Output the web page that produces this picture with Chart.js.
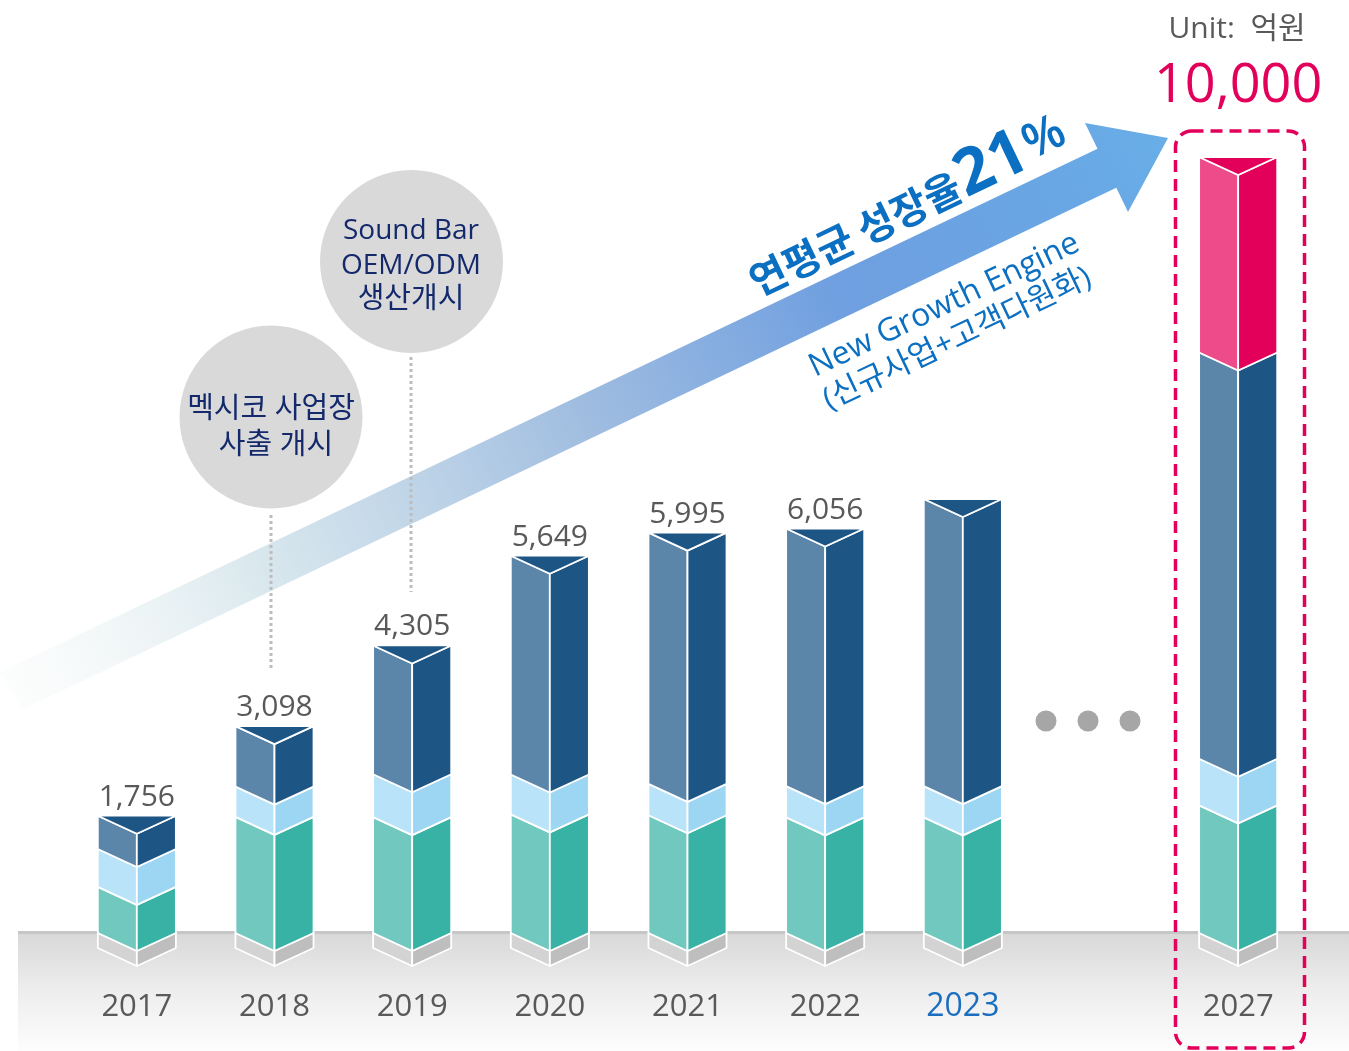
<!DOCTYPE html>
<html><head><meta charset="utf-8">
<script src="https://cdn.jsdelivr.net/npm/chart.js@4.4.1/dist/chart.umd.min.js"></script>
<style>html,body{margin:0;padding:0;background:#fff;overflow:hidden}canvas{display:block}</style>
</head><body>
<canvas id="c" width="1349" height="1051"></canvas>
<script>
// ---- data (unit: 억원) ----
const years = ['2017', '2018', '2019', '2020', '2021', '2022', '2023', '', '2027'];
const totalLabels = [1756, 3098, 4305, 5649, 5995, 6056, null, null, 10000];
const seriesTeal = [691, 1738, 1734, 1776, 1763, 1732, 1732, null, 1645];
const seriesLightBlue = [567, 453, 643, 597, 470, 466, 466, null, 601];
const seriesDarkBlue = [498, 907, 1928, 3276, 3762, 3858, 4300, null, 5235];
const seriesNewGrowth = [null, null, null, null, null, null, null, null, 2519];
const highlightYear = '2023';
const targetYear = '2027';
const unitText = 'Unit:  억원';

// ---- styles ----
const seriesList = [seriesTeal, seriesLightBlue, seriesDarkBlue, seriesNewGrowth];
const faceStyles = [
  {left: '#70c8bf', right: '#37b2a5'},
  {left: '#b9e3f8', right: '#9dd6f3'},
  {left: '#5b86aa', right: '#1d5585'},
  {left: '#ee4b8a', right: '#e3005a'}
];
const pedestalStyle = {left: '#d3d3d3', right: '#bebebe'};
const FONT_LATIN = '"Open Sans", "Noto Sans CJK KR", sans-serif';
const FONT_KR = '"Noto Sans CJK KR", "Open Sans", sans-serif';

const datasets = [];
seriesList.forEach((arr, si) => {
  datasets.push({
    data: arr.map((v, i) => years[i] === targetYear ? null : v),
    yAxisID: 'y', stack: 'near', seriesIndex: si, grouped: false,
    backgroundColor: 'rgba(0,0,0,0)', borderWidth: 0,
    categoryPercentage: 1, barPercentage: 0.567
  });
  datasets.push({
    data: arr.map((v, i) => years[i] === targetYear ? v : null),
    yAxisID: 'y2', stack: 'far', seriesIndex: si, grouped: false,
    backgroundColor: 'rgba(0,0,0,0)', borderWidth: 0,
    categoryPercentage: 1, barPercentage: 0.567
  });
});

function drawFaces(ctx, x, hw, top, bot, d, st) {
  ctx.lineJoin = 'round';
  ctx.strokeStyle = '#ffffff';
  ctx.lineWidth = 1.8;
  ctx.beginPath();
  ctx.moveTo(x - hw, top); ctx.lineTo(x, top + d); ctx.lineTo(x, bot + d); ctx.lineTo(x - hw, bot); ctx.closePath();
  ctx.fillStyle = st.left; ctx.fill(); ctx.stroke();
  ctx.beginPath();
  ctx.moveTo(x, top + d); ctx.lineTo(x + hw, top); ctx.lineTo(x + hw, bot); ctx.lineTo(x, bot + d); ctx.closePath();
  ctx.fillStyle = st.right; ctx.fill(); ctx.stroke();
}

const decorPlugin = {
  id: 'decor',
  beforeDraw(chart) {
    const ctx = chart.ctx;
    ctx.save();
    // ground
    const g = ctx.createLinearGradient(0, 933, 0, 1051);
    g.addColorStop(0, '#d8d8d8');
    g.addColorStop(0.45, '#ececec');
    g.addColorStop(1, '#fdfdfd');
    ctx.fillStyle = g;
    ctx.fillRect(18, 933, 1331, 118);
    ctx.fillStyle = '#c6c6c6';
    ctx.fillRect(18, 931, 1331, 3);

    // arrow
    const k = 0.477;
    const up = x => 149 + (1097 - x) * k;
    const lo = x => 197 + (1097 - x) * k;
    const ag = ctx.createLinearGradient(0, 700, 1168, 138);
    ag.addColorStop(0, 'rgba(240,245,245,0.15)');
    ag.addColorStop(0.22, 'rgba(214,230,236,0.9)');
    ag.addColorStop(0.5, '#a0bde0');
    ag.addColorStop(0.72, '#6f9fe0');
    ag.addColorStop(0.9, '#69a6e4');
    ag.addColorStop(1, '#68aee7');
    ctx.fillStyle = ag;
    ctx.beginPath();
    ctx.moveTo(0, up(0));
    ctx.lineTo(1097.5, 148.8);
    ctx.lineTo(1085, 123);
    ctx.lineTo(1168, 138);
    ctx.lineTo(1128, 212);
    ctx.lineTo(1116.3, 187.8);
    ctx.lineTo(22, lo(22));
    ctx.closePath();
    ctx.fill();

    // arrow texts
    const ang = -Math.atan(k);
    ctx.fillStyle = '#0b6fc2';
    ctx.textBaseline = 'alphabetic';
    ctx.textAlign = 'left';
    ctx.save();
    ctx.translate(758, 297); ctx.rotate(ang);
    ctx.font = 'bold 40px ' + FONT_KR;
    ctx.fillText('연평균 성장율', 0, 0);
    let w = ctx.measureText('연평균 성장율').width;
    ctx.font = 'bold 64px ' + FONT_LATIN;
    ctx.fillText('21', w + 1, 0);
    const w2 = ctx.measureText('21').width;
    ctx.font = '600 48px ' + FONT_LATIN;
    ctx.fillText('%', w + 3 + w2, -6);
    ctx.restore();

    ctx.save();
    ctx.translate(815, 377); ctx.rotate(ang);
    ctx.font = '32px ' + FONT_LATIN;
    ctx.fillText('New Growth Engine', 0, 0);
    ctx.restore();
    ctx.save();
    ctx.translate(829, 410); ctx.rotate(ang);
    ctx.font = '31px ' + FONT_LATIN;
    ctx.fillText('(신규사업+고객다원화)', 0, 0);
    ctx.restore();

    // dotted leader lines
    ctx.strokeStyle = '#bdbdbd';
    ctx.lineWidth = 3;
    ctx.setLineDash([3, 3]);
    ctx.beginPath(); ctx.moveTo(271, 515); ctx.lineTo(271, 670); ctx.stroke();
    ctx.beginPath(); ctx.moveTo(411, 357); ctx.lineTo(411, 592); ctx.stroke();
    ctx.setLineDash([]);

    // circles
    ctx.fillStyle = '#d9d9d9';
    ctx.beginPath(); ctx.arc(271, 417, 91.5, 0, Math.PI * 2); ctx.fill();
    ctx.beginPath(); ctx.arc(411.5, 261.5, 91.5, 0, Math.PI * 2); ctx.fill();
    ctx.fillStyle = '#13296b';
    ctx.textAlign = 'center';
    ctx.textBaseline = 'middle';
    ctx.font = '29px ' + FONT_LATIN;
    ctx.fillText('멕시코 사업장', 271, 410);
    ctx.fillText('사출 개시', 276, 446);
    ctx.font = '28px ' + FONT_LATIN;
    ctx.fillText('Sound Bar', 411, 231);
    ctx.fillText('OEM/ODM', 411, 266);
    ctx.font = '29px ' + FONT_LATIN;
    ctx.fillText('생산개시', 411, 300);

    // ellipsis dots
    ctx.fillStyle = '#a6a6a6';
    [1046, 1088, 1130].forEach(cx => { ctx.beginPath(); ctx.arc(cx, 721, 10.5, 0, Math.PI * 2); ctx.fill(); });

    // dashed highlight box
    ctx.strokeStyle = '#e3005a';
    ctx.lineWidth = 3.5;
    ctx.setLineDash([12, 7]);
    ctx.beginPath();
    ctx.roundRect(1175.5, 131, 129, 917, 16);
    ctx.stroke();
    ctx.setLineDash([]);

    // unit
    ctx.fillStyle = '#595959';
    ctx.textBaseline = 'alphabetic';
    ctx.font = '30px ' + FONT_LATIN;
    ctx.fillText(unitText, 1237, 38);
    ctx.restore();
  },
  afterDatasetsDraw(chart) {
    const ctx = chart.ctx;
    const d = 18;
    ctx.save();
    for (let i = 0; i < years.length; i++) {
      const segs = [];
      chart.data.datasets.forEach((ds, di) => {
        if (ds.data[i] == null) return;
        const el = chart.getDatasetMeta(di).data[i];
        const p = el.getProps(['x', 'y', 'base', 'width'], true);
        segs.push({x: p.x, hw: p.width / 2, top: p.y, bot: p.base, st: faceStyles[ds.seriesIndex]});
      });
      if (!segs.length) continue;
      segs.sort((a, b) => b.bot - a.bot);
      const x = segs[0].x, hw = segs[0].hw;
      drawFaces(ctx, x, hw, segs[0].bot, segs[0].bot + 15, d, pedestalStyle);
      segs.forEach(s => drawFaces(ctx, x, hw, s.top, s.bot, d, s.st));
      const t = segs[segs.length - 1];
      ctx.beginPath();
      ctx.moveTo(x - hw, t.top); ctx.lineTo(x + hw, t.top); ctx.lineTo(x, t.top + d); ctx.closePath();
      ctx.fillStyle = t.st.right; ctx.fill();
      ctx.strokeStyle = '#fff'; ctx.lineWidth = 1.8; ctx.stroke();

      // value label
      const v = totalLabels[i];
      ctx.textAlign = 'center';
      ctx.textBaseline = 'alphabetic';
      if (v != null) {
        if (years[i] === targetYear) {
          ctx.fillStyle = '#e3005a';
          ctx.font = '54px ' + FONT_LATIN;
          ctx.fillText(v.toLocaleString('en-US'), x, 102);
        } else {
          ctx.fillStyle = '#595959';
          ctx.font = '30px ' + FONT_LATIN;
          ctx.fillText(v.toLocaleString('en-US'), x, t.top - 10);
        }
      }
    }
    // year labels
    const xs = chart.scales.x;
    years.forEach((yr, i) => {
      if (!yr) return;
      const px = xs.getPixelForValue(i);
      ctx.textAlign = 'center';
      ctx.textBaseline = 'alphabetic';
      if (yr === highlightYear) {
        ctx.fillStyle = '#1a6ec0';
        ctx.font = '32px ' + FONT_LATIN;
      } else {
        ctx.fillStyle = '#595959';
        ctx.font = '31px ' + FONT_LATIN;
      }
      ctx.fillText(yr, px, 1016);
    });
    ctx.restore();
  }
};

new Chart(document.getElementById('c'), {
  type: 'bar',
  data: {labels: years, datasets: datasets},
  options: {
    responsive: false,
    animation: false,
    devicePixelRatio: 1,
    layout: {padding: {left: 68, right: 42, top: 131.5, bottom: 118}},
    plugins: {legend: {display: false}, tooltip: {enabled: false}},
    scales: {
      x: {display: false, stacked: true, offset: true},
      y: {display: false, stacked: true, min: 0, max: 12000},
      y2: {display: false, stacked: true, min: 0, max: 10329}
    }
  },
  plugins: [decorPlugin]
});
</script>
</body></html>
